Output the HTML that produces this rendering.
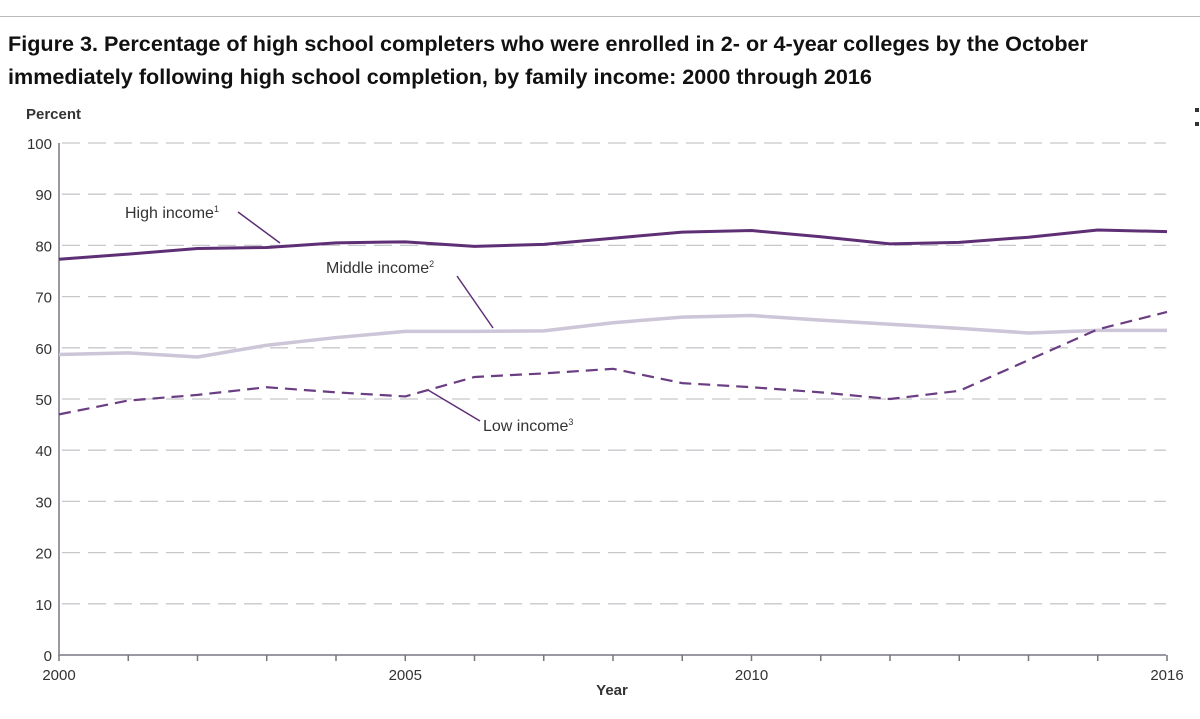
<!DOCTYPE html>
<html><head><meta charset="utf-8"><style>
body{margin:0;background:#fff;width:1200px;height:719px;overflow:hidden;font-family:"Liberation Sans",sans-serif}
.title{position:absolute;left:8px;top:27px;font-weight:bold;font-size:21.6px;line-height:33px;color:#111;white-space:nowrap}
</style></head><body>
<div style="position:absolute;left:0;top:16px;width:1200px;height:1px;background:#bbb"></div>
<div class="title">Figure 3. Percentage of high school completers who were enrolled in 2- or 4-year colleges by the October<br>immediately following high school completion, by family income: 2000 through 2016</div>
<svg id="c" width="1200" height="719" style="position:absolute;left:0;top:0"></svg>
<script>
const years=[2000,2001,2002,2003,2004,2005,2006,2007,2008,2009,2010,2011,2012,2013,2014,2015,2016];
const highIncome=[77.3,78.3,79.4,79.6,80.5,80.7,79.8,80.2,81.4,82.6,82.9,81.7,80.3,80.6,81.6,83.0,82.7];
const middleIncome=[58.7,59.0,58.2,60.5,62.0,63.2,63.2,63.3,64.9,66.0,66.3,65.4,64.6,63.8,62.9,63.4,63.4];
const lowIncome=[47.0,49.7,50.8,52.3,51.3,50.5,54.3,55.0,55.9,53.1,52.3,51.3,50.0,51.6,57.6,63.6,67.0];
const yTicks=[0,10,20,30,40,50,60,70,80,90,100];
const xLabels=[2000,2005,2010,2016];
const NS="http://www.w3.org/2000/svg",svg=document.getElementById('c');
const x=v=>59+(v-2000)*69.25, y=v=>655-v*5.12;
function mk(t,a,p){const e=document.createElementNS(NS,t);for(const k in a)e.setAttribute(k,a[k]);(p||svg).appendChild(e);return e;}
yTicks.forEach(t=>{
 if(t>0){const g=mk('line',{x1:62,x2:1166,y1:y(t),y2:y(t),stroke:'#c8c8cc','stroke-width':1.3,'stroke-dasharray':'18,8'});
 
 }
 const l=mk('text',{x:52,y:y(t)+6,'text-anchor':'end','font-size':15,fill:'#333'});l.textContent=t;
 
 
});
const ax=mk('path',{d:`M59 ${y(100)} V655 H1166`,stroke:'#9a98a4','stroke-width':2,fill:'none'});


years.forEach(yr=>{const t=mk('line',{x1:x(yr),x2:x(yr),y1:655,y2:661,stroke:'#777','stroke-width':1.5});
 
 });
xLabels.forEach(yr=>{const l=mk('text',{x:x(yr),y:680,'text-anchor':'middle','font-size':15,fill:'#333'});l.textContent=yr;
 
 });
const yt=mk('text',{x:26,y:119,'font-size':15,'font-weight':'bold',fill:'#333'});yt.textContent='Percent';


const xt=mk('text',{x:612,y:695,'text-anchor':'middle','font-size':15,'font-weight':'bold',fill:'#333'});xt.textContent='Year';


function series(vals,color,w,dash,name){const p=mk('polyline',{points:vals.map((v,i)=>x(years[i])+','+y(v)).join(' '),fill:'none',stroke:color,'stroke-width':w,'stroke-dasharray':dash||'none','stroke-linejoin':'round'});
 
 }
series(middleIncome,'#cdc5d8',3.5,null,'middle-income-line');
series(lowIncome,'#6b3d82',2.2,'12,7','low-income-line');
series(highIncome,'#5e2f75',3,null,'high-income-line');
function label(txt,sup,lx,ly,x1,y1,x2,y2,name){const t=mk('text',{x:lx,y:ly,'font-size':16,fill:'#333'});t.textContent=txt;
 const s=mk('tspan',{'font-size':9,dy:-6},t);s.textContent=sup;
 
 
 const l=mk('line',{x1,y1,x2,y2,stroke:'#5e2f75','stroke-width':1.5});
 
 }
label('High income','1',125,218,238,212,280,243,'high-income-label');
label('Middle income','2',326,273,457,276,493,328,'middle-income-label');
label('Low income','3',483,431,480,421,428,390,'low-income-label');
</script>
<div style="position:absolute;left:1195px;top:108px;width:4px;height:18px;border-top:4px solid #333;border-bottom:4px solid #333;box-sizing:border-box"></div>
</body></html>
